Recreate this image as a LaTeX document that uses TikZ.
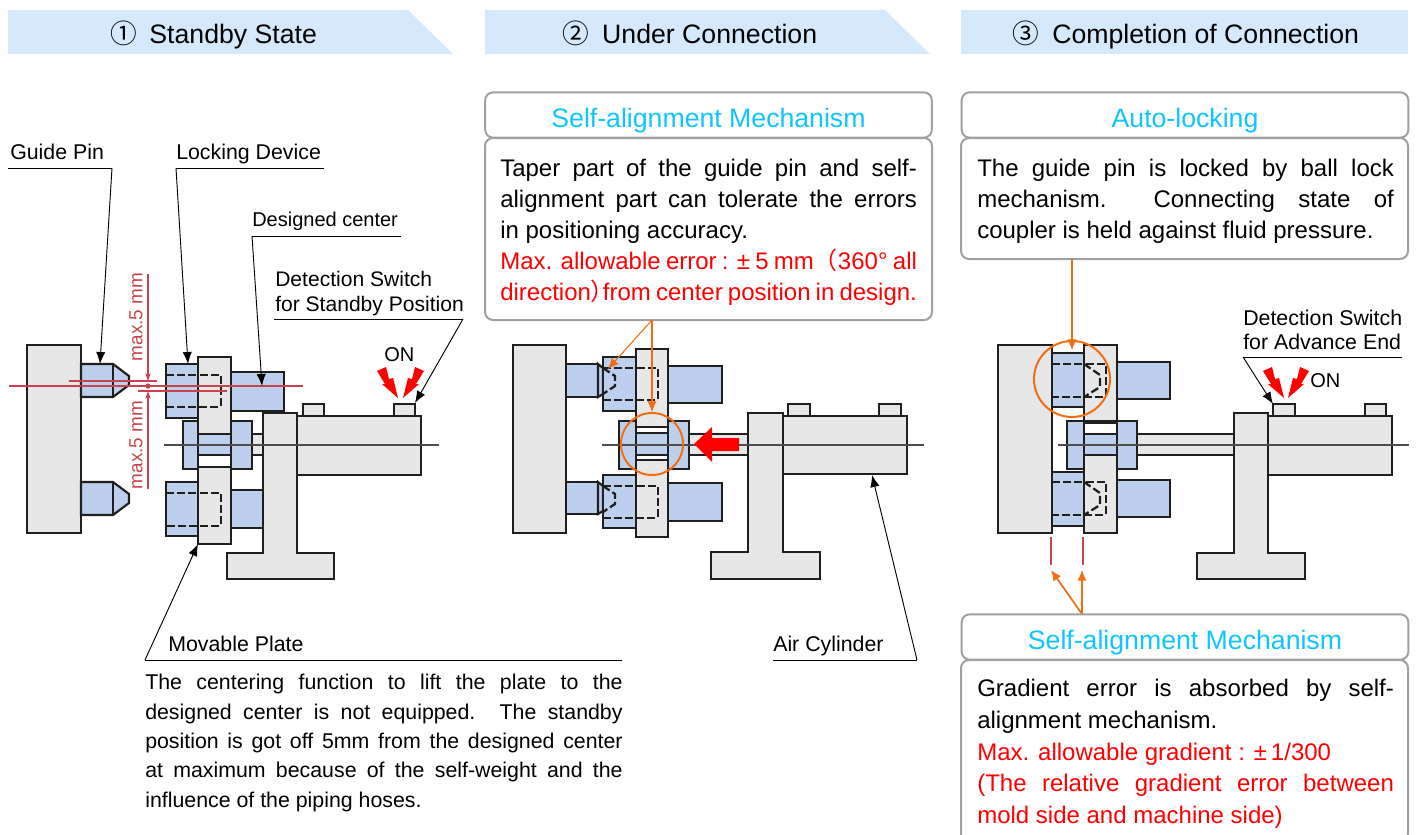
\documentclass[tikz,border=0pt]{standalone}
\usepackage{fontspec}
\setmainfont{Liberation Sans}
\newfontfamily\cjkfont{Noto Sans CJK JP}
\usetikzlibrary{arrows.meta,calc}
\definecolor{headblue}{HTML}{D5E9FC}
\definecolor{partblue}{HTML}{BCD0EE}
\definecolor{partgray}{HTML}{E7E7E7}
\definecolor{partline}{HTML}{1F1F1F}
\definecolor{boxgray}{HTML}{A0A0A0}
\definecolor{titlecyan}{HTML}{0FC4FF}
\definecolor{dimred}{HTML}{C9434F}
\definecolor{arroworange}{HTML}{F26D12}
\tikzset{
  head/.style={fill=headblue},
  headtext/.style={font=\fontsize{20}{24}\selectfont,inner sep=0pt,text height=15pt,text depth=5pt},
  metal/.style={draw=partline,fill=partgray,line width=1.6pt},
  bluepart/.style={draw=partline,fill=partblue,line width=1.6pt},
  whitepart/.style={draw=partline,fill=white,line width=1.6pt},
  hidden/.style={draw=partline,line width=1.7pt,dash pattern=on 6pt off 2.4pt},
  center line/.style={draw=partline!80,line width=0.8pt},
  dimline/.style={draw=dimred,line width=0.9pt},
  leader/.style={draw=black,line width=0.7pt},
  leaderarrow/.style={leader,-{Latex[length=9pt,width=7pt]}},
  orangearrow/.style={draw=arroworange,line width=0.8pt,-{Latex[length=8pt,width=7pt]}},
  thickorange/.style={orangearrow,line width=1.3pt},
  orangering/.style={draw=arroworange,line width=1.5pt},
  lbl/.style={font=\fontsize{16}{19}\selectfont,inner sep=0pt,anchor=base west},
  titlebox/.style={draw=boxgray,line width=1.5pt,rounded corners=6pt,fill=white,minimum width=335pt,minimum height=34pt,inner sep=0pt,text=titlecyan,font=\fontsize{20}{24}\selectfont,text height=18.5pt,text depth=0pt},
  textbox/.style={draw=boxgray,line width=1.5pt,rounded corners=6pt,fill=white},
  bodytext/.style={text width=312.5pt,align=justify,inner sep=0pt,anchor=north west,font=\fontsize{18}{23.25}\selectfont\sloppy},
}
\newcommand{\boltleft}[2]{\fill[red,shift={(#1,#2)}] (-21,-27) -- (-12,-31) -- (-9,-19) -- (-5,-20) -- (0,0) -- (-16,-14) -- (-13,-14) -- cycle;}
\newcommand{\boltright}[2]{\fill[red,shift={(#1,#2)}] (21,-27) -- (12,-31) -- (9,-19) -- (5,-20) -- (0,0) -- (16,-14) -- (13,-14) -- cycle;}
\begin{document}
\begin{tikzpicture}[x=0.75pt,y=-0.75pt]
  \useasboundingbox (0,0) rectangle (1424,835);
  \clip (0,0) rectangle (1424,835);

  % headers
  \fill [head] (8,10) -- (408,10) -- (453,54) -- (8,54) -- cycle;
  \fill [head] (485,10) -- (885,10) -- (930,54) -- (485,54) -- cycle;
  \fill [head] (961,10) rectangle (1408,54);
  \node (head1) [headtext] at (213.5,37) {{\cjkfont ①}\hspace{4pt} Standby State};
  \node (head2) [headtext] at (690,37) {{\cjkfont ②}\hspace{4pt} Under Connection};
  \node (head3) [headtext] at (1186,37) {{\cjkfont ③}\hspace{4pt} Completion of Connection};

  % standby state
  \draw [metal] (27,345) rectangle (81,533);
  \draw [bluepart] (81,364) -- (113,364) -- (129,376) -- (129,385) -- (113,397) -- (81,397) -- cycle;
  \draw [partline,line width=1.6pt] (113,364) -- (113,397);
  \draw [bluepart] (81,482) -- (113,482) -- (129,494) -- (129,503) -- (113,515) -- (81,515) -- cycle;
  \draw [partline,line width=1.6pt] (113,482) -- (113,515);
  \draw [bluepart] (166,364) rectangle (198,418);
  \draw [bluepart] (231,372) rectangle (284,411);
  \draw [bluepart] (183,421) rectangle (252,469);
  \draw [metal] (252,434) rectangle (263,455);
  \draw [bluepart] (166,482) rectangle (198,536);
  \draw [bluepart] (231,490) rectangle (263,528);
  \draw [metal] (198,357) rectangle (231,434);
  \draw [bluepart] (198,434) rectangle (231,455);
  \draw [whitepart] (198,455) rectangle (231,467);
  \draw [metal] (198,467) rectangle (231,544);
  \draw [metal] (263,413) -- (297,413) -- (297,553) -- (334,553) -- (334,579) -- (227,579) -- (227,553) -- (263,553) -- cycle;
  \draw [metal] (303,404) rectangle (324,416);
  \draw [metal] (394,404) rectangle (415,416);
  \draw [metal] (297,416) rectangle (421,475);
  \draw [hidden] (166,375) -- (221,375) -- (221,407) -- (166,407);
  \draw [hidden] (166,493) -- (221,493) -- (221,526) -- (166,526);
  \draw [center line] (164,445) -- (439,445);
  \draw [dimline] (9,386) -- (303,386);
  \draw [dimline] (69,381) -- (157,381);
  \draw [dimline] (138,391) -- (227,391);
  \draw [dimline,-{Stealth[length=6pt,width=4pt]}] (148,274) -- (148,381);
  \draw [dimline,-{Stealth[length=6pt,width=4pt]}] (148,489) -- (148,391);
  \fill [dimred] (148,386) circle (2.6);
  \node (maxup) [font=\fontsize{14.2}{16}\selectfont,text=dimred,rotate=90,inner sep=0pt] at (136,317) {max.5 mm};
  \node (maxdown) [font=\fontsize{14.2}{16}\selectfont,text=dimred,rotate=90,inner sep=0pt] at (136,445) {max.5 mm};
  \boltleft{398}{398}
  \boltright{403}{398}
  \node (on1) [lbl,font=\fontsize{15}{18}\selectfont] at (384,361) {ON};

  \node (guidepin) [lbl] at (10,159) {Guide Pin};
  \coordinate (guidepinl) at (8,168);
  \coordinate (guidepinr) at (112,168);
  \coordinate (guidepinend) at (100,364);
  \draw [leader] (guidepinl) -- (guidepinr);
  \draw [leaderarrow] (guidepinr) -- (guidepinend);
  \node (lockdev) [lbl] at (176,159) {Locking Device};
  \coordinate (lockdevl) at (176,168);
  \coordinate (lockdevr) at (324,168);
  \coordinate (lockdevend) at (188,364);
  \draw [leader] (lockdevr) -- (lockdevl);
  \draw [leaderarrow] (lockdevl) -- (lockdevend);
  \node (center) [lbl,font=\fontsize{15}{18}\selectfont] at (252,226) {Designed center};
  \coordinate (centerl) at (252,236);
  \coordinate (centerr) at (401,236);
  \coordinate (centerend) at (262,386);
  \draw [leader] (centerr) -- (centerl);
  \draw [leaderarrow] (centerl) -- (centerend);
  \node (standby) [lbl,align=left,font=\fontsize{15.8}{18.8}\selectfont,anchor=north west] at (275,271) {Detection Switch\\for Standby Position};
  \coordinate (standbyl) at (274,319);
  \coordinate (standbyr) at (463,319);
  \coordinate (standbyend) at (415,403);
  \draw [leader] (standbyl) -- (standbyr);
  \draw [leaderarrow] (standbyr) -- (standbyend);
  \node (plate) [lbl] at (168,651) {Movable Plate};
  \coordinate (platel) at (145,660);
  \coordinate (plater) at (622,660);
  \coordinate (plateend) at (198,544);
  \draw [leader] (plater) -- (platel);
  \draw [leaderarrow] (platel) -- (plateend);
  \node (platetext) [text width=358pt,align=justify,inner sep=0pt,anchor=north west,font=\fontsize{16}{22}\selectfont\sloppy] at (145,674)
    {The centering function to lift the plate to the\linebreak designed center is not equipped. The standby\linebreak position is got off 5mm from the designed center\linebreak at maximum because of the self-weight and the\linebreak influence of the piping hoses.};

  % under connection
  \node (selftitle) [titlebox] at (708.5,115) {Self-alignment Mechanism};
  \draw [textbox] (485,138) rectangle (932,320);
  \coordinate (selfbody) at (500,159);
  \node (selftext) [bodytext] at (selfbody) {Taper part of the guide pin and self-\linebreak alignment part can tolerate the errors\linebreak in positioning accuracy.\\\textcolor{red}{Max. allowable error : ± 5 mm{\cjkfont （}360° all\\\makebox[\linewidth][s]{direction\makebox[0.5em][l]{\cjkfont ）}from center position in design.}}};
  \draw [metal] (513,345) rectangle (566,533);
  \draw [bluepart] (566,364) rectangle (598,397);
  \draw [bluepart] (598,364) -- (603,368) -- (603,394) -- (598,397) -- cycle;
  \draw [bluepart] (566,482) rectangle (598,514);
  \draw [bluepart] (598,482) -- (603,486) -- (603,511) -- (598,514) -- cycle;
  \draw [bluepart] (603,357) rectangle (636,411);
  \draw [bluepart] (668,366) rectangle (722,403);
  \draw [bluepart] (619,421) rectangle (689,469);
  \draw [metal] (689,434) rectangle (748,455);
  \draw [bluepart] (603,475) rectangle (636,528);
  \draw [bluepart] (668,483) rectangle (722,521);
  \draw [metal] (636,349) rectangle (668,427);
  \draw [whitepart] (636,427) rectangle (668,433);
  \draw [bluepart] (636,433) rectangle (668,455);
  \draw [whitepart] (636,455) rectangle (668,460);
  \draw [metal] (636,460) rectangle (668,537);
  \draw [metal] (748,413) -- (783,413) -- (783,552) -- (820,552) -- (820,579) -- (711,579) -- (711,552) -- (748,552) -- cycle;
  \draw [metal] (788,404) rectangle (810,416);
  \draw [metal] (879,404) rectangle (901,416);
  \draw [metal] (783,416) rectangle (907,474);
  \draw [hidden] (603,368) -- (658,368) -- (658,400) -- (603,400);
  \draw [hidden] (603,368) -- (615,376) -- (615,386) -- (603,394);
  \draw [hidden] (603,486) -- (658,486) -- (658,518) -- (603,518);
  \draw [hidden] (603,486) -- (615,494) -- (615,504) -- (603,512);
  \draw [center line] (602,445) -- (924,445);
  \node (ring2) [orangering,circle,minimum size=46.5pt,inner sep=0pt] at (652,444) {};
  \coordinate (selffoot) at (652,320);
  \coordinate (noseend) at (608,369);
  \draw [orangearrow] (selffoot) -- (noseend);
  \draw [orangearrow] (selffoot) -- (ring2.north);
  \fill [red] (694,444) -- (712,427) -- (712,438) -- (739,438) -- (739,451) -- (712,451) -- (712,462) -- cycle;
  \node (aircyl) [lbl] at (773,651) {Air Cylinder};
  \coordinate (aircyll) at (773,660);
  \coordinate (aircylr) at (917,660);
  \coordinate (aircylend) at (872,475);
  \draw [leader] (aircyll) -- (aircylr);
  \draw [leaderarrow] (aircylr) -- (aircylend);

  % completion of connection
  \node (locktitle) [titlebox] at (1185,115) {Auto-locking};
  \draw [textbox] (961,138) rectangle (1408,259);
  \coordinate (lockbody) at (977,159);
  \node (locktext) [bodytext] at (lockbody) {The guide pin is locked by ball lock\linebreak mechanism.\ \ Connecting state of\linebreak coupler is held against fluid pressure.};
  \draw [metal] (998,345) rectangle (1052,533);
  \draw [bluepart] (1052,353) rectangle (1084,407);
  \draw [metal] (1084,345) rectangle (1117,423);
  \draw [bluepart] (1117,362) rectangle (1170,399);
  \draw [bluepart] (1067,421) rectangle (1137,469);
  \draw [whitepart] (1084,423) rectangle (1117,434);
  \draw [bluepart] (1084,434) rectangle (1117,455);
  \draw [metal] (1084,455) rectangle (1117,533);
  \draw [bluepart] (1052,472) rectangle (1084,526);
  \draw [bluepart] (1117,480) rectangle (1170,517);
  \draw [bluepart] (1067,421) rectangle (1084,469);
  \draw [bluepart] (1117,421) rectangle (1137,469);
  \draw [metal] (1137,434) rectangle (1234,455);
  \draw [metal] (1234,413) -- (1268,413) -- (1268,553) -- (1305,553) -- (1305,579) -- (1197,579) -- (1197,553) -- (1234,553) -- cycle;
  \draw [metal] (1273,404) rectangle (1295,416);
  \draw [metal] (1365,404) rectangle (1386,416);
  \draw [metal] (1268,416) rectangle (1392,475);
  \draw [hidden] (1052,364) -- (1106,364) -- (1106,397) -- (1052,397);
  \draw [hidden] (1084,364) -- (1100,375) -- (1100,387) -- (1084,397);
  \draw [hidden] (1052,482) -- (1106,482) -- (1106,515) -- (1052,515);
  \draw [hidden] (1084,482) -- (1100,493) -- (1100,505) -- (1084,515);
  \draw [center line] (1058,445) -- (1409,445);
  \node (ring3) [orangering,circle,minimum size=57pt,inner sep=0pt] at (1072,379) {};
  \coordinate (lockfoot) at (1072,259);
  \coordinate (lockend) at (1072,350);
  \draw [orangearrow] (lockfoot) -- (lockend);
  \boltleft{1284}{398}
  \boltright{1288}{398}
  \node (on3) [lbl,font=\fontsize{15}{18}\selectfont] at (1310,387) {ON};
  \node (advance) [lbl,align=left,font=\fontsize{16}{18}\selectfont,anchor=north west] at (1243,310) {Detection Switch\\for Advance End};
  \coordinate (advancel) at (1243,357);
  \coordinate (advancer) at (1402,357);
  \coordinate (advanceend) at (1273,404);
  \draw [leader] (advancer) -- (advancel);
  \draw [leaderarrow] (advancel) -- (advanceend);
  \coordinate (gapa) at (1051,570);
  \coordinate (gapb) at (1082,570);
  \coordinate (gapfoot) at (1082,614);
  \draw [dimline] (1051,537) -- (1051,565);
  \draw [dimline] (1083,537) -- (1083,565);
  \draw [thickorange] (gapfoot) -- (gapa);
  \draw [thickorange] (gapfoot) -- (gapb);
  \node (gaptitle) [titlebox] at (1185,637) {Self-alignment Mechanism};
  \draw [textbox] (961,660) rectangle (1408,842);
  \coordinate (gapbody) at (977,679);
  \node (gaptext) [bodytext,font=\fontsize{18}{23.75}\selectfont\sloppy] at (gapbody) {Gradient error is absorbed by self-\linebreak alignment mechanism.\\\textcolor{red}{Max. allowable gradient : ±\,1/300\\(The relative gradient error between\linebreak mold side and machine side)}};
\end{tikzpicture}
\end{document}
